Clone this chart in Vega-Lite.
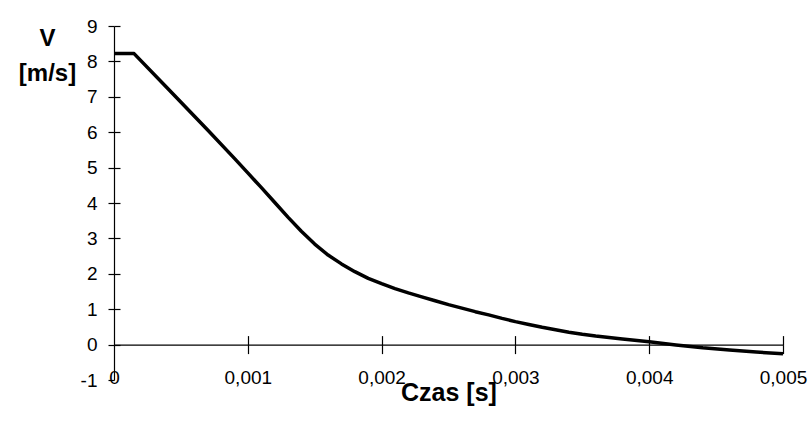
{
  "$schema": "https://vega.github.io/schema/vega-lite/v6.json",
  "width": 669,
  "height": 354,
  "autosize": {"type": "none"},
  "padding": {"left": 114, "top": 26, "right": 26, "bottom": 47},
  "background": "white",
  "config": {
    "view": {"stroke": null},
    "axis": {"grid": false, "domainColor": "black", "tickColor": "black", "labelColor": "black", "titleColor": "black", "labelFont": "Liberation Sans", "titleFont": "Liberation Sans", "domainWidth": 1.2, "tickWidth": 1.2}
  },
  "data": {
    "values": [
      {"t": 0, "v": 8.22},
      {"t": 0.00015, "v": 8.22},
      {"t": 0.0004, "v": 7.24},
      {"t": 0.0007, "v": 6.06},
      {"t": 0.0009, "v": 5.26},
      {"t": 0.001, "v": 4.85},
      {"t": 0.0011, "v": 4.44},
      {"t": 0.0012, "v": 4.02},
      {"t": 0.0013, "v": 3.6},
      {"t": 0.0014, "v": 3.2},
      {"t": 0.0015, "v": 2.84},
      {"t": 0.0016, "v": 2.53},
      {"t": 0.0017, "v": 2.28},
      {"t": 0.0018, "v": 2.06},
      {"t": 0.0019, "v": 1.87},
      {"t": 0.002, "v": 1.72},
      {"t": 0.0021, "v": 1.58},
      {"t": 0.0022, "v": 1.46},
      {"t": 0.0023, "v": 1.35},
      {"t": 0.0024, "v": 1.24},
      {"t": 0.0025, "v": 1.13},
      {"t": 0.0026, "v": 1.03},
      {"t": 0.0027, "v": 0.93},
      {"t": 0.0028, "v": 0.84},
      {"t": 0.0029, "v": 0.74},
      {"t": 0.003, "v": 0.65},
      {"t": 0.0031, "v": 0.57},
      {"t": 0.0032, "v": 0.49},
      {"t": 0.0033, "v": 0.42},
      {"t": 0.0034, "v": 0.35},
      {"t": 0.0035, "v": 0.29},
      {"t": 0.0036, "v": 0.24},
      {"t": 0.0038, "v": 0.16},
      {"t": 0.004, "v": 0.08},
      {"t": 0.0042, "v": -0.01},
      {"t": 0.0044, "v": -0.09},
      {"t": 0.0046, "v": -0.15},
      {"t": 0.0048, "v": -0.21},
      {"t": 0.005, "v": -0.26}
    ]
  },
  "layer": [
    {
      "mark": {"type": "line", "color": "black", "strokeWidth": 3.5, "strokeJoin": "round"},
      "encoding": {
        "x": {
          "field": "t", "type": "quantitative",
          "scale": {"domain": [0, 0.005], "nice": false, "zero": false},
          "axis": {
            "orient": "bottom", "values": [0, 0.001, 0.002, 0.003, 0.004, 0.005],
            "domain": false, "ticks": false, "tickSize": 0,
            "labelPadding": -3, "labelBaseline": "middle", "labelFlush": false, "labelOverlap": false,
            "labelFontSize": 19,
            "labelExpr": "datum.value == 0 ? '0' : replace(format(datum.value, '.3f'), '.', ',')",
            "title": "Czas [s]", "titleFontSize": 25, "titleFontWeight": "bold",
            "titleBaseline": "alphabetic", "titleY": 20, "titleX": 334.5, "titleAlign": "center"
          }
        },
        "y": {
          "field": "v", "type": "quantitative",
          "scale": {"domain": [-1, 9], "nice": false, "zero": false},
          "axis": {
            "orient": "left", "values": [-1, 0, 1, 2, 3, 4, 5, 6, 7, 8, 9],
            "domain": true, "ticks": true, "tickSize": 6, "labelPadding": 11,
            "labelFontSize": 19, "labelBaseline": "middle",
            "labelExpr": "'' + datum.value",
            "title": ["V", "[m/s]"], "titleFontSize": 24, "titleFontWeight": "bold",
            "titleAngle": 0, "titleAlign": "center", "titleBaseline": "alphabetic",
            "titleLineHeight": 35, "titleX": -67, "titleY": 19
          }
        }
      }
    },
    {
      "mark": {"type": "line", "strokeOpacity": 0},
      "encoding": {
        "x": {
          "field": "t", "type": "quantitative",
          "scale": {"domain": [0, 0.005], "nice": false, "zero": false},
          "axis": {"orient": "bottom", "offset": -35.4, "values": [0.001, 0.002, 0.003, 0.004, 0.005], "domain": true, "ticks": true, "tickSize": 9, "labels": false, "title": null}
        },
        "y": {
          "field": "v", "type": "quantitative",
          "scale": {"domain": [-1, 9], "nice": false, "zero": false},
          "axis": {"orient": "right", "offset": -669, "values": [0, 1, 2, 3, 4, 5, 6, 7, 8, 9], "domain": false, "ticks": true, "tickSize": 6, "labels": false, "title": null}
        }
      }
    },
    {
      "mark": {"type": "line", "strokeOpacity": 0},
      "encoding": {
        "x": {
          "field": "t", "type": "quantitative",
          "scale": {"domain": [0, 0.005], "nice": false, "zero": false},
          "axis": {"orient": "top", "offset": -318.6, "values": [0.001, 0.002, 0.003, 0.004, 0.005], "domain": false, "ticks": true, "tickSize": 9, "labels": false, "title": null}
        },
        "y": {
          "field": "v", "type": "quantitative",
          "scale": {"domain": [-1, 9], "nice": false, "zero": false},
          "axis": null
        }
      }
    }
  ],
  "resolve": {"axis": {"x": "independent", "y": "independent"}}
}
